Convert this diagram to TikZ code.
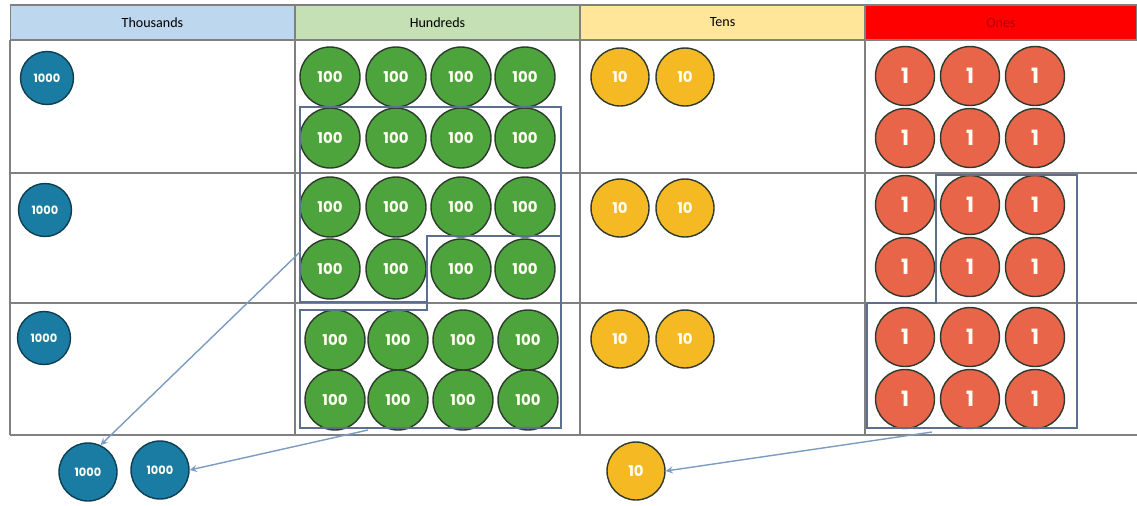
\documentclass[tikz,border=0pt]{standalone}
\usepackage{fontspec}
\setmainfont{Carlito}
\newfontfamily\coinfont{Poppins}
\definecolor{thouhead}{HTML}{BDD7EE}
\definecolor{hunhead}{HTML}{C5E0B4}
\definecolor{tenhead}{HTML}{FFE699}
\definecolor{onehead}{HTML}{FF0000}
\definecolor{onetext}{HTML}{B00000}
\definecolor{thoucoin}{HTML}{1B7CA3}
\definecolor{huncoin}{HTML}{4DA33C}
\definecolor{tencoin}{HTML}{F4B923}
\definecolor{onecoin}{HTML}{E8654A}
\definecolor{coinedge}{HTML}{2E3A2E}
\definecolor{gridline}{HTML}{808080}
\definecolor{groupline}{HTML}{5C6F8E}
\definecolor{arrowline}{HTML}{7B9BC2}
\begin{document}
\begin{tikzpicture}[x=0.02cm, y=-0.02cm, >=stealth]
  \tikzset{coin/.style={circle, draw=coinedge, line width=0.8pt, inner sep=0pt, text=white!95!yellow, font=\coinfont\bfseries\fontsize{8.5}{9}\selectfont},
    thou/.style={coin, fill=thoucoin, draw=thoucoin!50!black, minimum size=1.06cm, font=\coinfont\bfseries\fontsize{6.5}{7}\selectfont},
    hun/.style={coin, fill=huncoin, minimum size=1.2cm},
    ten/.style={coin, fill=tencoin, minimum size=1.16cm},
    one/.style={coin, fill=onecoin, minimum size=1.18cm, font=\coinfont\bfseries\fontsize{12}{13}\selectfont},
    head/.style={draw=gridline, line width=0.6pt, minimum width=5.7cm, minimum height=0.7cm, inner sep=0pt, font=\fontsize{8}{9}\selectfont},
    group/.style={draw=groupline, line width=1pt},
    trade/.style={->, draw=arrowline, line width=0.8pt}}
  \useasboundingbox (0,0) rectangle (1137,505);
  % headings
  \node[head, fill=thouhead] (hthou) at (152.5,22.5) {Thousands};
  \node[head, fill=hunhead] (hhun) at (437.5,22.5) {Hundreds};
  \node[head, fill=tenhead] (hten) at (722.5,22.5) {Tens};
  \node[head, fill=onehead, text=onetext, minimum width=5.44cm] (hone) at (1001,22.5) {Ones};
  % grid
  \draw[gridline, line width=0.6pt] (10,40) -- (10,435) (295,40) -- (295,435) (580,40) -- (580,435) (865,40) -- (865,435);
  \draw[gridline, line width=0.6pt] (10,173) -- (1137,173) (10,303) -- (1137,303) (10,435) -- (1137,435);
  % thousands
  \node[thou] (k1) at (47,78) {1000};
  \node[thou] (k2) at (45,210) {1000};
  \node[thou] (k3) at (44,338) {1000};
  % hundreds
  \foreach \y [count=\r] in {77,138,207,269} {
    \foreach \x [count=\c] in {330,396,461,525}
      \node[hun] (h\r\c) at (\x,\y) {100};
  }
  \foreach \y [count=\r from 5] in {340,400} {
    \foreach \x [count=\c] in {335,398,463,528}
      \node[hun] (h\r\c) at (\x,\y) {100};
  }
  % tens
  \foreach \y [count=\r] in {77,208,339} {
    \node[ten] (d\r a) at (620,\y) {10};
    \node[ten] (d\r b) at (685,\y) {10};
  }
  % ones
  \foreach \y [count=\r] in {76,138,205,267,337,399} {
    \foreach \x [count=\c] in {905,970,1035}
      \node[one] (o\r\c) at (\x,\y) {1};
  }
  % regrouping
  \draw[group] (300,107) -- (561,107) -- (561,236) -- (427,236) -- (427,302) -- (300,302) -- cycle;
  \draw[group] (300,310) -- (427,310) -- (427,236) -- (561,236) -- (561,428) -- (300,428) -- cycle;
  \draw[group] (936,175) -- (1077,175) -- (1077,428) -- (867,428) -- (867,303) -- (936,303) -- cycle;
  \coordinate (g1) at (300,252);
  \coordinate (g2) at (368,430);
  \coordinate (g3) at (932,432);
  \node[thou, minimum size=1.16cm] (k4) at (88,472) {1000};
  \node[thou, minimum size=1.16cm] (k5) at (160,470) {1000};
  \node[ten] (d4) at (636,471) {10};
  \draw[trade] (g1) -- (k4.65);
  \draw[trade] (g2) -- (k5.east);
  \draw[trade] (g3) -- (d4.east);
\end{tikzpicture}
\end{document}
